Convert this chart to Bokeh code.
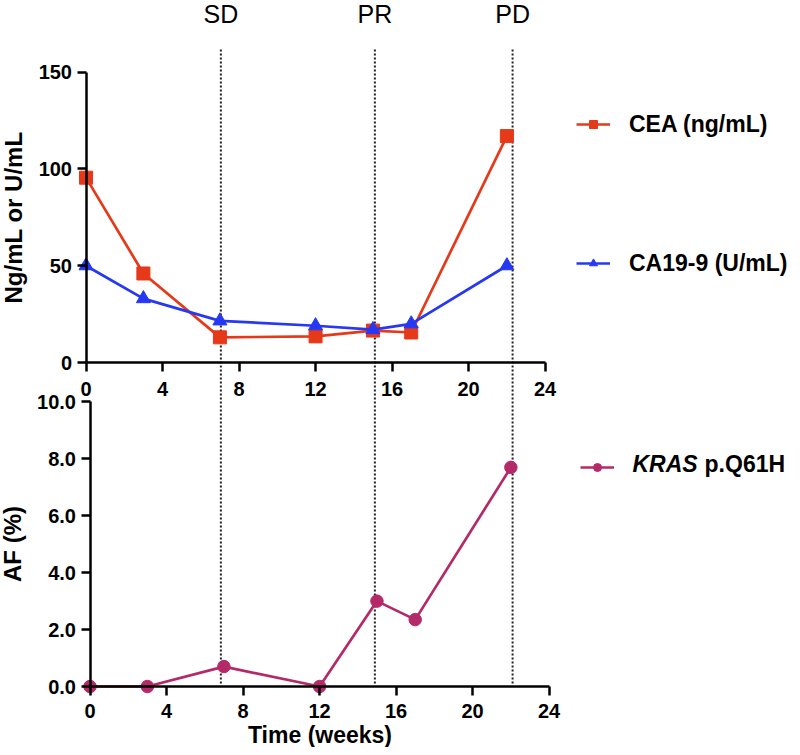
from bokeh.plotting import figure
from bokeh.models import (Range1d, LinearAxis, FixedTicker, Legend, LegendItem,
                          Label, NumeralTickFormatter)
from bokeh.core.properties import value
from bokeh.embed import file_html
from bokeh.resources import INLINE

# ---------------- data ----------------
weeks = [0, 3, 7, 12, 15, 17, 22]
cea = [95.5, 46.0, 13.0, 13.5, 16.5, 15.5, 117.0]
ca199 = [50.0, 33.0, 21.5, 19.0, 17.0, 20.0, 50.0]
kras_af = [0.0, 0.0, 0.7, 0.0, 3.0, 2.35, 7.7]
event_weeks = [7.05, 15.1, 22.3]
event_labels = ["SD", "PR", "PD"]
x_ticks = [0, 4, 8, 12, 16, 20, 24]
top_y_ticks = [0, 50, 100, 150]
bottom_y_ticks = [0, 2, 4, 6, 8, 10]

# ---------------- layout (pixels, from top-left) ----------------
W, H = 792, 747
FONT = "Liberation Sans"
RED, BLUE, MAG = "#e5391a", "#2638f2", "#b42a68"

x_scale = 19.13                 # px per week
top_x0, bot_x0 = 85.5, 89.5     # pixel of week 0 in each panel
top_y0, top_y150 = 362.0, 71.7  # top panel: pixel of 0 and 150
bot_y0, bot_y10 = 686.0, 401.4  # bottom panel: pixel of 0 and 10
ty = (top_y0 - top_y150) / 150.0
by = (bot_y0 - bot_y10) / 10.0

x_bot = Range1d(-bot_x0 / x_scale, (W - bot_x0) / x_scale)
x_top = Range1d(-top_x0 / x_scale, (W - top_x0) / x_scale)
y_bot = Range1d(-(H - bot_y0) / by, bot_y0 / by)
y_top = Range1d(-(H - top_y0) / ty, top_y0 / ty)

p = figure(width=W, height=H, x_range=x_bot, y_range=y_bot,
           x_axis_type=None, y_axis_type=None, toolbar_location=None,
           output_backend="svg", min_border=0, outline_line_color=None)
p.extra_x_ranges = {"xtop": x_top}
p.extra_y_ranges = {"ytop": y_top}
p.xgrid.visible = False
p.ygrid.visible = False


def style(ax):
    ax.axis_line_width = 2.5
    ax.axis_line_color = "black"
    ax.major_tick_line_width = 2.5
    ax.major_tick_line_color = "black"
    ax.major_tick_out = 9
    ax.major_tick_in = 0
    ax.minor_tick_line_color = None
    ax.major_label_text_font = FONT
    ax.major_label_text_font_style = "bold"
    ax.major_label_text_font_size = "20px"
    ax.major_label_text_color = "black"
    ax.major_label_standoff = 5
    ax.axis_label_text_font = FONT
    ax.axis_label_text_font_style = "bold"
    ax.axis_label_text_font_size = "24px"
    ax.axis_label_text_color = "black"
    ax.axis_label_standoff = 9


# top panel axes
ax_ty = LinearAxis(x_range_name="xtop", y_range_name="ytop", fixed_location=0,
                   bounds=(0, 150), ticker=FixedTicker(ticks=top_y_ticks, minor_ticks=[]),
                   axis_label="Ng/mL or U/mL")
style(ax_ty)
p.add_layout(ax_ty, "left")

ax_tx = LinearAxis(x_range_name="xtop", y_range_name="ytop", fixed_location=0,
                   bounds=(0, 24), ticker=FixedTicker(ticks=x_ticks, minor_ticks=[]))
style(ax_tx)
ax_tx.major_label_standoff = 10
p.add_layout(ax_tx, "below")

# bottom panel axes
ax_by = LinearAxis(fixed_location=0, bounds=(0, 10),
                   ticker=FixedTicker(ticks=bottom_y_ticks, minor_ticks=[]),
                   formatter=NumeralTickFormatter(format="0.0"),
                   axis_label="AF (%)")
style(ax_by)
p.add_layout(ax_by, "left")

ax_bx = LinearAxis(fixed_location=0, bounds=(0, 24),
                   ticker=FixedTicker(ticks=x_ticks, minor_ticks=[]),
                   axis_label="Time (weeks)")
style(ax_bx)
ax_bx.major_label_standoff = 8
ax_bx.axis_label_standoff = 1
ax_bx.axis_label_text_font_size = "23px"
p.add_layout(ax_bx, "below")

# event lines and labels
line_top_px, line_bot_px = 49.0, 683.0
p.segment(x0=event_weeks, x1=event_weeks,
          y0=[(bot_y0 - line_bot_px) / by] * len(event_weeks),
          y1=[(bot_y0 - line_top_px) / by] * len(event_weeks),
          x_range_name="xtop", line_color="#222222", line_width=2,
          line_dash="2 2")
p.text(x=event_weeks, y=[(bot_y0 - 13.5) / by] * len(event_weeks), text=event_labels,
       x_range_name="xtop", text_align="center", text_baseline="middle",
       text_font=value(FONT), text_font_size="25px", text_color="black")

# series
cea_l = p.line(weeks, cea, x_range_name="xtop", y_range_name="ytop",
               line_color=RED, line_width=2.7)
cea_m = p.scatter(weeks, cea, x_range_name="xtop", y_range_name="ytop",
                  marker="square", size=13, fill_color=RED, line_color=RED)
ca_l = p.line(weeks, ca199, x_range_name="xtop", y_range_name="ytop",
              line_color=BLUE, line_width=2.7)
ca_m = p.scatter(weeks, ca199, x_range_name="xtop", y_range_name="ytop",
                 marker="triangle", size=14, fill_color=BLUE, line_color=BLUE)
kr_l = p.line(weeks, kras_af, line_color=MAG, line_width=2.7)
kr_m = p.scatter(weeks, kras_af, marker="circle", size=12.5,
                 fill_color=MAG, line_color=MAG)

LEG_FS = 23
HALF = 13.5


def make_legend(label, renderers, loc):
    lg = Legend(items=[LegendItem(label=label, renderers=renderers)],
                location=loc, border_line_color=None, background_fill_alpha=0,
                padding=0, margin=0, spacing=0, glyph_width=34, glyph_height=20,
                label_standoff=19, label_height=20,
                label_text_font=FONT, label_text_font_style="bold",
                label_text_font_size=f"{LEG_FS}px", label_text_color="black")
    p.add_layout(lg)
    return lg


make_legend("CEA (ng/mL)", [cea_l, cea_m], (576, H - 124 - HALF))
make_legend("CA19-9 (U/mL)", [ca_l, ca_m], (576, H - 263 - HALF))
make_legend(" ", [kr_l, kr_m], (580, H - 463 - HALF))

kras_y = H - 463
p.add_layout(Label(x=632, y=kras_y, x_units="screen", y_units="screen", text="KRAS",
                   text_font=FONT, text_font_style="bold italic",
                   text_font_size=f"{LEG_FS}px",
                   text_baseline="middle", text_color="black"))
p.add_layout(Label(x=632 + 2.833 * LEG_FS + 0.3 * LEG_FS, y=kras_y,
                   x_units="screen", y_units="screen", text="p.Q61H",
                   text_font=FONT, text_font_style="bold",
                   text_font_size=f"{LEG_FS}px",
                   text_baseline="middle", text_color="black"))

open("out.html", "w").write(file_html(p, INLINE))
